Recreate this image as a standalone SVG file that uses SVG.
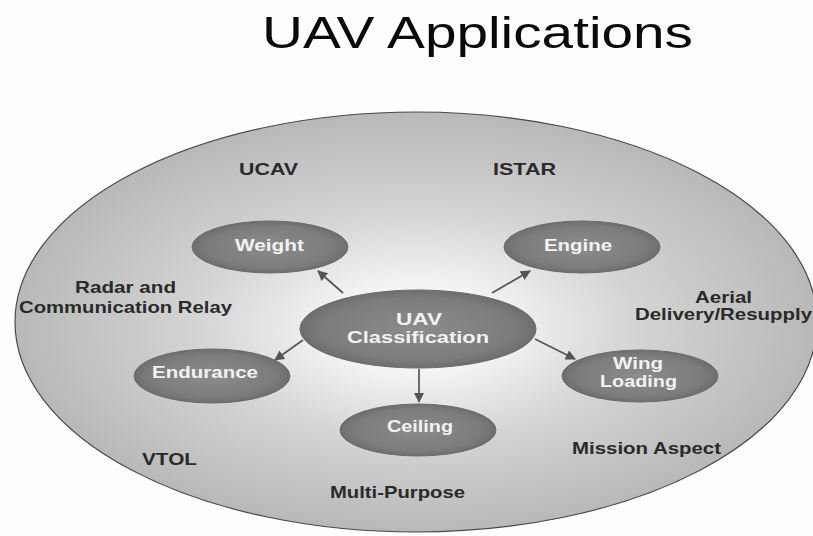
<svg xmlns="http://www.w3.org/2000/svg" width="813" height="536" viewBox="0 0 813 536">
<defs>
<radialGradient id="bg" cx="0.5" cy="0.5" r="0.5" fx="0.5" fy="0.52">
<stop offset="0" stop-color="#ffffff"/>
<stop offset="0.22" stop-color="#f3f3f3"/>
<stop offset="0.55" stop-color="#d4d4d4"/>
<stop offset="1" stop-color="#b8b8b8"/>
</radialGradient>
<radialGradient id="node" cx="0.5" cy="0.5" r="0.5">
<stop offset="0" stop-color="#8c8c8c"/>
<stop offset="0.8" stop-color="#7c7c7c"/>
<stop offset="1" stop-color="#6e6e6e"/>
</radialGradient>
<marker id="arr" viewBox="0 0 10 10" refX="9" refY="5" markerWidth="6" markerHeight="6" orient="auto" markerUnits="strokeWidth">
<path d="M0,0 L10,5 L0,10 z" fill="#555555"/>
</marker>
</defs>
<style>
.lbl{font-family:"Liberation Sans",Arial,sans-serif;font-size:16.5px;font-weight:bold;fill:#2a2a2a}
.in{font-family:"Liberation Sans",Arial,sans-serif;font-size:16.5px;font-weight:bold;fill:#f2f2f2}
.nd{fill:url(#node);stroke:#6a6a6a;stroke-width:1}
.cn{stroke:#555555;stroke-width:1.7;fill:none;marker-end:url(#arr)}
</style>
<rect width="813" height="536" fill="#fdfdfd"/>
<text x="262" y="48" font-family="Liberation Sans, Arial, sans-serif" font-size="44" fill="#0a0a0a" textLength="431" lengthAdjust="spacingAndGlyphs">UAV Applications</text>

<g id="outer">
<ellipse cx="416" cy="322" rx="401" ry="210" fill="url(#bg)" stroke="#4a4a4a" stroke-width="1.2"/>
<text class="lbl" x="239" y="175" textLength="59" lengthAdjust="spacingAndGlyphs">UCAV</text>
<text class="lbl" x="493" y="175" textLength="63" lengthAdjust="spacingAndGlyphs">ISTAR</text>
<text class="lbl" x="75" y="293" textLength="101" lengthAdjust="spacingAndGlyphs">Radar and</text>
<text class="lbl" x="19" y="313" textLength="213" lengthAdjust="spacingAndGlyphs">Communication Relay</text>
<text class="lbl" x="695" y="303" textLength="57" lengthAdjust="spacingAndGlyphs">Aerial</text>
<text class="lbl" x="635" y="320" textLength="177" lengthAdjust="spacingAndGlyphs">Delivery/Resupply</text>
<text class="lbl" x="142" y="465" textLength="55" lengthAdjust="spacingAndGlyphs">VTOL</text>
<text class="lbl" x="330" y="498" textLength="135" lengthAdjust="spacingAndGlyphs">Multi-Purpose</text>
<text class="lbl" x="572" y="454" textLength="149" lengthAdjust="spacingAndGlyphs">Mission Aspect</text>
</g>

<g id="connectors">
<line class="cn" x1="343" y1="293" x2="318" y2="271"/>
<line class="cn" x1="492" y1="293" x2="530" y2="271"/>
<line class="cn" x1="303" y1="340" x2="275" y2="360"/>
<line class="cn" x1="419" y1="369" x2="419" y2="402"/>
<line class="cn" x1="535" y1="339" x2="575" y2="359"/>
</g>

<g id="center">
<ellipse class="nd" cx="418" cy="329" rx="118" ry="39"/>
<text class="in" x="396" y="325" textLength="46" lengthAdjust="spacingAndGlyphs">UAV</text>
<text class="in" x="347" y="343" textLength="142" lengthAdjust="spacingAndGlyphs">Classification</text>
</g>
<g id="weight">
<ellipse class="nd" cx="270" cy="247" rx="78" ry="26"/>
<text class="in" x="235" y="251" textLength="69" lengthAdjust="spacingAndGlyphs">Weight</text>
</g>
<g id="engine">
<ellipse class="nd" cx="582" cy="247" rx="78" ry="26"/>
<text class="in" x="544" y="251" textLength="68" lengthAdjust="spacingAndGlyphs">Engine</text>
</g>
<g id="endurance">
<ellipse class="nd" cx="212" cy="376" rx="78" ry="27"/>
<text class="in" x="152" y="378" textLength="106" lengthAdjust="spacingAndGlyphs">Endurance</text>
</g>
<g id="ceiling">
<ellipse class="nd" cx="418" cy="430" rx="78" ry="26"/>
<text class="in" x="387" y="432" textLength="66" lengthAdjust="spacingAndGlyphs">Ceiling</text>
</g>
<g id="wingloading">
<ellipse class="nd" cx="640" cy="376" rx="78" ry="26"/>
<text class="in" x="613" y="369" textLength="50" lengthAdjust="spacingAndGlyphs">Wing</text>
<text class="in" x="600" y="387" textLength="77" lengthAdjust="spacingAndGlyphs">Loading</text>
</g>
</svg>
